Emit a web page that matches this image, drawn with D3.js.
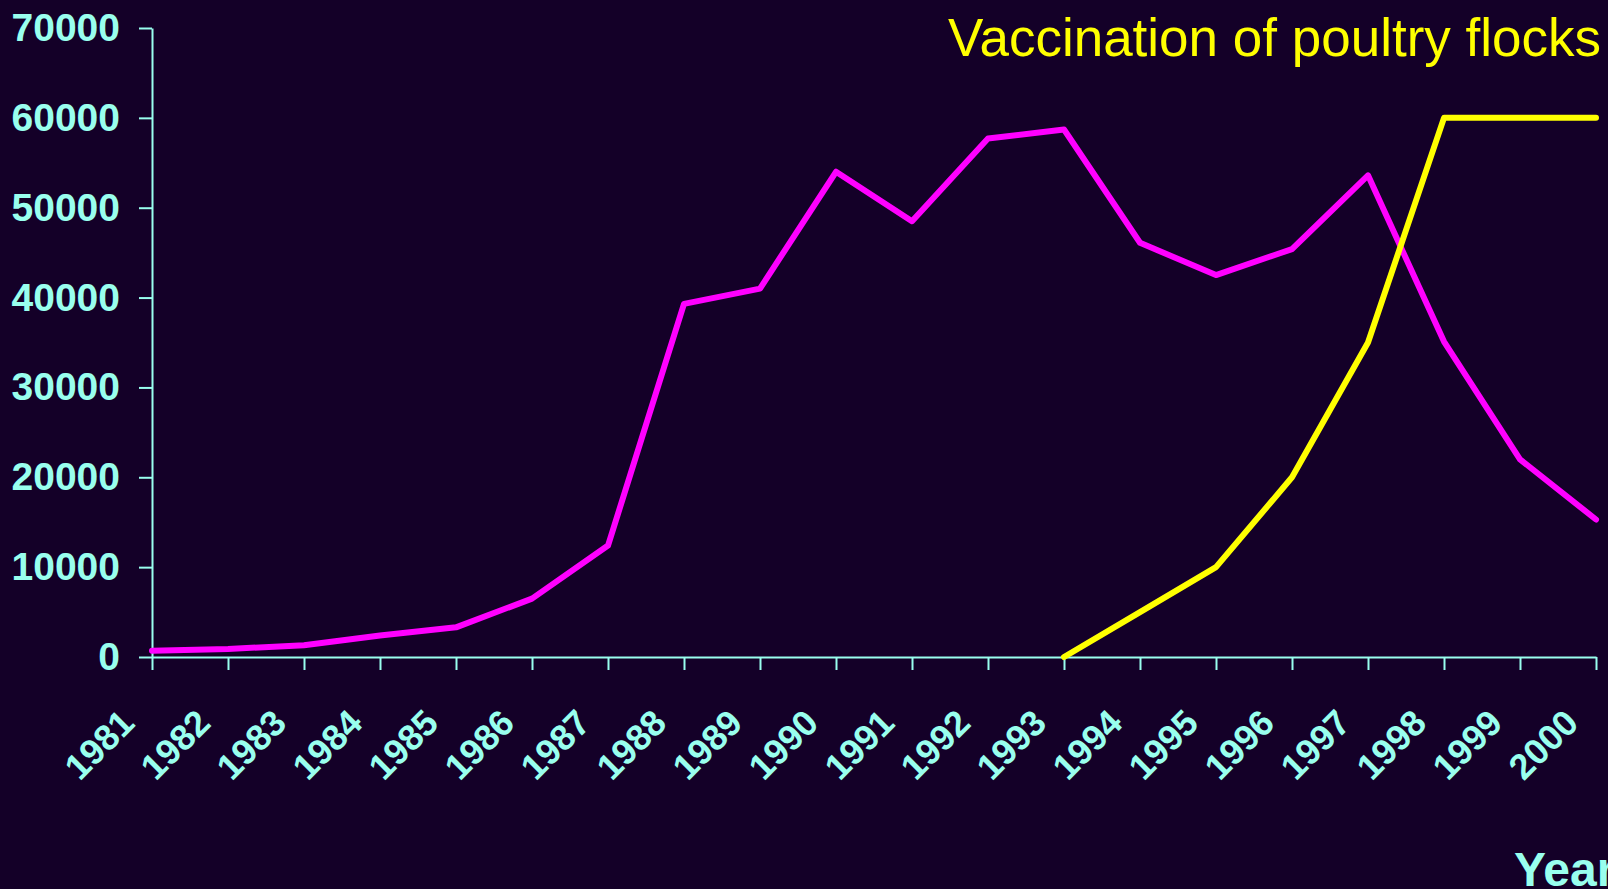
<!DOCTYPE html>
<html>
<head>
<meta charset="utf-8">
<script src="https://cdn.jsdelivr.net/npm/d3@7"></script>
<style>
  html, body { margin: 0; padding: 0; background: #140028; overflow: hidden; }
  svg { display: block; }
</style>
</head>
<body>
<div id="chart"></div>
<script>
// values
const years = ["1981", "1982", "1983", "1984", "1985", "1986", "1987", "1988", "1989", "1990",
               "1991", "1992", "1993", "1994", "1995", "1996", "1997", "1998", "1999", "2000"];
const cases = [700, 900, 1300, 2400, 3300, 6500, 12400, 39300, 41000, 54000,
               48500, 57700, 58700, 46100, 42500, 45400, 53600, 35100, 22000, 15300];
const vaccYears = ["1993", "1994", "1995", "1996", "1997", "1998", "1999", "2000"];
const vaccinated = [0, 5000, 10000, 20000, 35000, 60000, 60000, 60000];
const yTicks = [0, 10000, 20000, 30000, 40000, 50000, 60000, 70000];

const width = 1608, height = 889;
const axisColor = "#99ffee";

const svg = d3.select("#chart").append("svg")
    .attr("width", width)
    .attr("height", height);

svg.append("rect")
    .attr("width", width)
    .attr("height", height)
    .attr("fill", "#140028");

const x = d3.scalePoint()
    .domain(years)
    .range([152, 1596]);

const y = d3.scaleLinear()
    .domain([0, 70000])
    .range([657, 28]);

// y axis
const yAxis = svg.append("g")
    .attr("transform", "translate(152,0)")
    .call(d3.axisLeft(y).tickValues(yTicks).tickFormat(d3.format("d")).tickSize(13).tickSizeOuter(0).tickPadding(19));

yAxis.select(".domain").attr("stroke", axisColor).attr("stroke-width", 2);
yAxis.selectAll(".tick line").attr("stroke", axisColor).attr("stroke-width", 2);
yAxis.selectAll(".tick text")
    .attr("fill", axisColor)
    .style("font-family", "'Liberation Sans', Arial, sans-serif")
    .style("font-weight", "bold")
    .style("font-size", "39px");

// x axis
const xAxis = svg.append("g")
    .attr("transform", `translate(0,${y(0)})`)
    .call(d3.axisBottom(x).tickSize(13).tickSizeOuter(0));

xAxis.select(".domain").attr("stroke", axisColor).attr("stroke-width", 2);
xAxis.selectAll(".tick line").attr("stroke", axisColor).attr("stroke-width", 2);
xAxis.selectAll(".tick text")
    .attr("fill", axisColor)
    .attr("x", 0)
    .attr("y", 0)
    .attr("dy", 0)
    .attr("transform", "translate(-16,68) rotate(-45)")
    .style("text-anchor", "end")
    .style("font-family", "'Liberation Sans', Arial, sans-serif")
    .style("font-weight", "bold")
    .style("font-size", "36px");

// lines
const line = d3.line()
    .x(d => x(d[0]))
    .y(d => y(d[1]));

svg.append("path")
    .datum(d3.zip(years, cases))
    .attr("d", line)
    .attr("fill", "none")
    .attr("stroke", "#ff00ff")
    .attr("stroke-width", 6)
    .attr("stroke-linejoin", "round")
    .attr("stroke-linecap", "round");

svg.append("path")
    .datum(d3.zip(vaccYears, vaccinated))
    .attr("d", line)
    .attr("fill", "none")
    .attr("stroke", "#ffff00")
    .attr("stroke-width", 6)
    .attr("stroke-linejoin", "round")
    .attr("stroke-linecap", "round");

// labels
svg.append("text")
    .attr("x", 1601)
    .attr("y", 56)
    .attr("text-anchor", "end")
    .attr("fill", "#ffff00")
    .style("font-family", "'Liberation Sans', Arial, sans-serif")
    .style("font-size", "53px")
    .text("Vaccination of poultry flocks");

svg.append("text")
    .attr("x", 1514)
    .attr("y", 886)
    .attr("fill", axisColor)
    .style("font-family", "'Liberation Sans', Arial, sans-serif")
    .style("font-weight", "bold")
    .style("font-size", "48px")
    .text("Year");
</script>
</body>
</html>
